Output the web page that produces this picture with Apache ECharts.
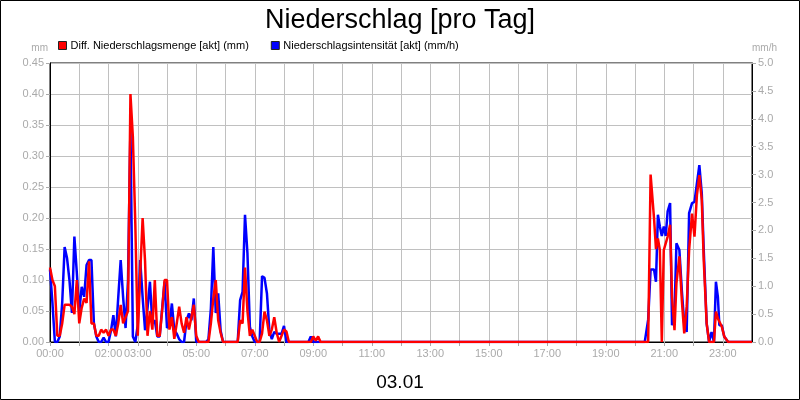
<!DOCTYPE html>
<html>
<head>
<meta charset="utf-8">
<title>Niederschlag</title>
<script src="https://cdn.jsdelivr.net/npm/echarts@6.0.0/dist/echarts.min.js"></script>
<style>
	html, body { margin: 0; padding: 0; background: #fff; }
	#main { width: 800px; height: 400px; }
</style>
</head>
<body>
<div id="main"></div>
<script>
// Werte
var xLabels = ['00:00', '02:00', '03:00', '05:00', '07:00', '09:00', '11:00', '13:00', '15:00', '17:00', '19:00', '21:00', '23:00'];

// Vormittag: 5-Minuten-Schritte ab 00:00
var amStep = 5;
var mengeAm = [0.12, 0.10, 0.09, 0.01, 0.01, 0.03, 0.06, 0.06, 0.06, 0.057, 0.045, 0.10, 0.03, 0.055, 0.07, 0.063,
	0.13, 0.03, 0.03, 0.01, 0.01, 0.02, 0.015, 0.02, 0.01, 0.02, 0.02, 0.01, 0.03, 0.06, 0.03, 0.04,
	0.05, 0.40, 0.33, 0.19, 0.01, 0.11, 0.20, 0.13, 0.01, 0.05, 0.02, 0.10, 0.01, 0.01, 0.05, 0.10,
	0.10, 0.02, 0.04, 0.005, 0.03, 0.057, 0.03, 0.015, 0.04, 0.02, 0.04, 0.06, 0.01, 0, 0, 0,
	0, 0, 0.03, 0.07, 0.10, 0.035, 0.015, 0, 0, 0, 0, 0, 0, 0, 0.035, 0.03,
	0.12, 0.05, 0.01, 0.02, 0.01, 0, 0, 0.014, 0.049, 0.035, 0.01, 0.02, 0.04, 0.015, 0, 0.01,
	0.02, 0.017, 0, 0, 0, 0, 0, 0, 0, 0, 0, 0, 0.009, 0.002, 0.009, 0, 0];
var intensAm = [1.3, 0.7, 0, 0, 0.1, 0.7, 1.70, 1.50, 1.1, 0.52, 1.89, 1.24, 0.54, 0.99, 0.81, 1.38,
	1.47, 1.47, 0.34, 0.1, 0, 0, 0.08, 0, 0, 0.2, 0.48, 0.1, 0.8, 1.47, 0.8, 0.25,
	1.1, 3.85, 0.1, 0, 0.3, 1.47, 0.8, 0.21, 0.6, 1.08, 0.33, 0.39, 0.1, 0.1, 0.6, 1.08,
	0.25, 0.3, 0.69, 0.21, 0.15, 0.05, 0, 0, 0.39, 0.51, 0.39, 0.78, 0, 0, 0, 0,
	0, 0.05, 0.6, 1.70, 0.52, 0.87, 0.2, 0, 0, 0, 0, 0, 0, 0, 0.75, 0.90,
	2.28, 1.59, 0.27, 0.1, 0, 0, 0, 1.18, 1.15, 0.87, 0.2, 0.05, 0.18, 0.15, 0.15, 0.15,
	0.29, 0, 0, 0, 0, 0, 0, 0, 0, 0, 0, 0.1, 0, 0, 0, 0, 0];

// Abend: Zeitpunkte einzeln
var zeitPm = ['20:20', '20:27', '20:32', '20:39', '20:43', '20:47', '20:51', '20:55', '20:59', '21:03', '21:07', '21:12',
	'21:16', '21:21', '21:25', '21:31', '21:36', '21:41', '21:46', '21:51', '21:57', '22:02', '22:07', '22:12',
	'22:17', '22:21', '22:27', '22:32', '22:37', '22:42', '22:46', '22:50', '22:53', '22:58', '23:03', '23:06',
	'23:11', '24:00'];
var mengePm = [0, 0, 0.27, 0.20, 0.15, 0.167, 0.148, 0, 0.148, 0.159, 0.17, 0.189,
	0.073, 0.019, 0.095, 0.138, 0.068, 0.014, 0.057, 0.148, 0.207, 0.17, 0.237, 0.269,
	0.229, 0.132, 0.03, 0, 0, 0, 0.049, 0.038, 0.038, 0.025, 0.009, 0.006,
	0, 0];
var intensPm = [0, 0.4, 1.30, 1.30, 1.08, 2.28, 2.07, 1.90, 2.07, 1.90, 2.34, 2.49,
	0.30, 0.51, 1.77, 1.65, 0.93, 0.33, 0.18, 2.31, 2.49, 2.51, 2.84, 3.17,
	2.66, 1.65, 0.33, 0, 0.18, 0, 1.08, 0.81, 0.30, 0.30, 0.1, 0.1,
	0, 0];

function minuten(s) {
	var p = s.split(':');
	return parseInt(p[0], 10) * 60 + parseInt(p[1], 10);
}
function reihe(am, pm) {
	var d = [];
	for (var i = 0; i < am.length; i++) {
		d.push([i * amStep, am[i]]);
	}
	for (var j = 0; j < pm.length; j++) {
		d.push([minuten(zeitPm[j]), pm[j]]);
	}
	return d;
}
function hhmm(v) {
	var h = Math.floor(v / 60);
	return (h < 10 ? '0' : '') + h + ':00';
}

var grau = '#aaaaaa';
var schrift = "'Liberation Sans', Arial, sans-serif";

var myChart = echarts.init(document.getElementById('main'));
var option = {
	backgroundColor: '#fff',
	animation: false,
	textStyle: { fontFamily: schrift },
	title: [{
		text: 'Niederschlag [pro Tag]',
		left: 'center', top: 2,
		textStyle: { fontSize: 27, fontWeight: 'normal', color: '#000', fontFamily: schrift }
	}, {
		text: '03.01',
		left: 'center', top: 368,
		textStyle: { fontSize: 19, fontWeight: 'normal', color: '#000', fontFamily: schrift }
	}],
	legend: {
		left: 58, top: 40, padding: 0,
		icon: 'rect',
		itemWidth: 8, itemHeight: 8,
		itemGap: 22,
		itemStyle: { borderColor: '#222', borderWidth: 1 },
		textStyle: { fontSize: 11, color: '#000', fontFamily: schrift, padding: [0, 0, 0, -1] },
		data: ['Diff. Niederschlagsmenge [akt] (mm)', 'Niederschlagsintensität [akt] (mm/h)']
	},
	graphic: [{
		type: 'rect',
		shape: { x: 0.5, y: 0.5, width: 799, height: 399 },
		style: { fill: 'none', stroke: '#000', lineWidth: 1 },
		silent: true
	}],
	grid: {
		left: 50, right: 48, top: 63, bottom: 58,
		show: true, borderColor: '#000', borderWidth: 1
	},
	xAxis: {
		type: 'value', min: 0, max: 1440, interval: 60,
		axisLine: { lineStyle: { color: '#000' } },
		axisTick: { length: 4, lineStyle: { color: grau } },
		axisLabel: {
			color: grau, fontSize: 11, margin: 6, showMaxLabel: false,
			formatter: function (v) {
				var t = hhmm(v);
				return xLabels.indexOf(t) >= 0 ? t : '';
			}
		},
		splitLine: { show: true, lineStyle: { color: '#c0c0c0', width: 1 } }
	},
	yAxis: [{
		type: 'value', min: 0, max: 0.45, interval: 0.05,
		name: 'mm', nameLocation: 'end', nameGap: 10,
		nameTextStyle: { color: grau, fontSize: 10, align: 'right', padding: [0, 2, 0, 0] },
		axisLine: { show: true, lineStyle: { color: '#000' } },
		axisTick: { show: true, length: 4, lineStyle: { color: grau } },
		axisLabel: { color: grau, fontSize: 11, margin: 6, formatter: function (v) { return v.toFixed(2); } },
		splitLine: { show: true, lineStyle: { color: '#c0c0c0', width: 1 } }
	}, {
		type: 'value', min: 0, max: 5, interval: 0.5,
		name: 'mm/h', nameLocation: 'end', nameGap: 10,
		nameTextStyle: { color: grau, fontSize: 10, align: 'left', padding: [0, 0, 0, 0] },
		axisLine: { show: true, lineStyle: { color: '#000' } },
		axisTick: { show: true, length: 4, lineStyle: { color: grau } },
		axisLabel: { color: grau, fontSize: 11, margin: 6, formatter: function (v) { return v.toFixed(1); } },
		splitLine: { show: false }
	}],
	series: [{
		name: 'Niederschlagsintensität [akt] (mm/h)',
		type: 'line', yAxisIndex: 1,
		data: reihe(intensAm, intensPm),
		showSymbol: false, smooth: false,
		color: '#0000ff',
		lineStyle: { color: '#0000ff', width: 2.5 }
	}, {
		name: 'Diff. Niederschlagsmenge [akt] (mm)',
		type: 'line', yAxisIndex: 0,
		data: reihe(mengeAm, mengePm),
		showSymbol: false, smooth: false,
		color: '#ff0000',
		lineStyle: { color: '#ff0000', width: 2.5 }
	}]
};
myChart.setOption(option);
</script>
</body>
</html>
